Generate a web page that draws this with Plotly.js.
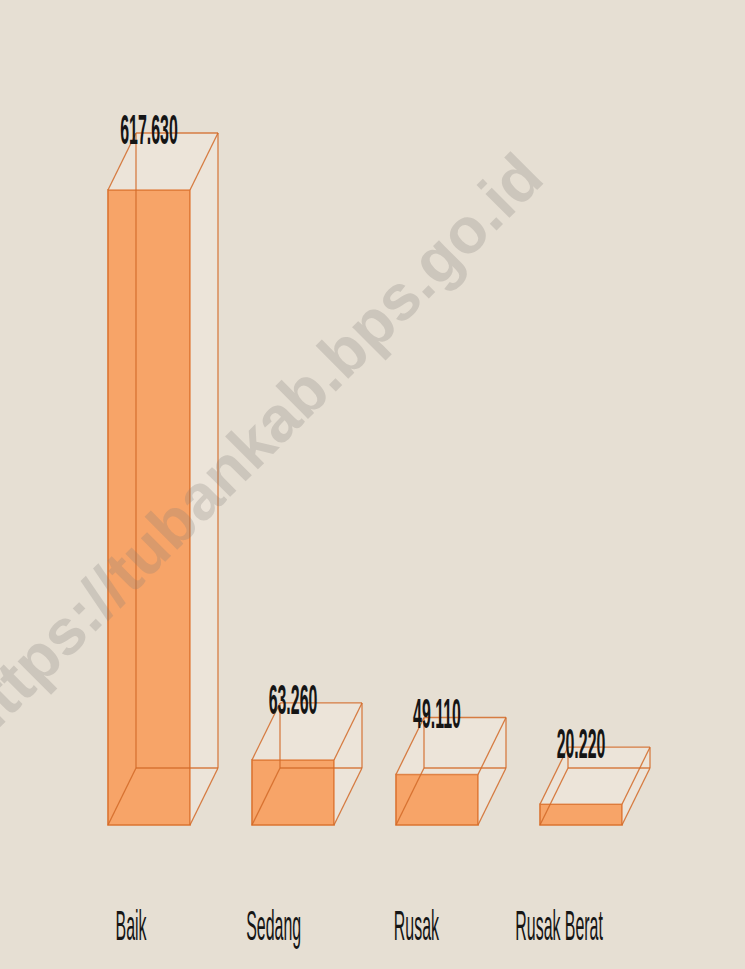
<!DOCTYPE html>
<html>
<head>
<meta charset="utf-8">
<script src="https://cdn.plot.ly/plotly-3.0.1.min.js"></script>
<style>
  html, body { margin: 0; padding: 0; background: #e6dfd3; }
  #chart { width: 745px; height: 969px; }
</style>
</head>
<body>
<div id="chart"></div>
<script>
// ---- data ----
const categories = ['Baik', 'Sedang', 'Rusak', 'Rusak Berat'];
const values = [617630, 63260, 49110, 20220];
const watermark = 'https://tubankab.bps.go.id';

// ---- geometry (pixels) ----
const W = 745, H = 969;
const marginB = 73;
const plotH = H - marginB;
const barCenter0 = 149, barStep = 144, barWidthPx = 82;
const labelCenter0 = 131, labelStep = 142.7;
const baselinePx = 825, maxTopPx = 190;
const depthXPx = 28, depthYPx = 57;
const squeeze = 0.37;

const maxVal = Math.max(...values);
const s = (baselinePx - maxTopPx) / maxVal;          // px per unit
const idx = categories.map((c, i) => i);
const bw = barWidthPx / barStep;
const dxU = depthXPx / barStep;
const dyU = depthYPx / s;

const xRange = [-barCenter0 / barStep, (W - barCenter0) / barStep];
const x2Range = [-labelCenter0 / labelStep, (W - labelCenter0) / labelStep];
const yRange = [-(plotH - baselinePx) / s, baselinePx / s];

// box outline (back edges + depth diagonals), built from values
const lx = [], ly = [];
const sx = [], sy = [];
values.forEach((v, i) => {
  const xl = i - bw / 2, xr = i + bw / 2;
  const segs = [
    [[xl + dxU, dyU], [xl + dxU, v + dyU]],
    [[xr + dxU, dyU], [xr + dxU, v + dyU]],
    [[xl + dxU, v + dyU], [xr + dxU, v + dyU]],
    [[xl + dxU, dyU], [xr + dxU, dyU]],
    [[xl, 0], [xl + dxU, dyU]],
    [[xr, 0], [xr + dxU, dyU]],
    [[xl, v], [xl + dxU, v + dyU]],
    [[xr, v], [xr + dxU, v + dyU]]
  ];
  segs.forEach(sg => {
    lx.push(sg[0][0], sg[1][0], null);
    ly.push(sg[0][1], sg[1][1], null);
  });
  sx.push(xr, xr + dxU, xr + dxU, xr, xr, null);
  sy.push(0, dyU, v + dyU, v, 0, null);
  sx.push(xl, xr, xr + dxU, xl + dxU, xl, null);
  sy.push(v, v, v + dyU, v + dyU, v, null);
});

const labelFont = '"Liberation Sans", Arial, sans-serif';

const traces = [
  {
    type: 'scatter', x: sx, y: sy, mode: 'lines', fill: 'toself',
    fillcolor: 'rgba(255,242,236,0.25)', line: { width: 0 },
    hoverinfo: 'skip', showlegend: false, xaxis: 'x', yaxis: 'y'
  },
  {
    type: 'bar', x: idx, y: values, width: bw,
    marker: { color: '#f7a468', line: { color: '#db7431', width: 1.6 } },
    hoverinfo: 'skip', showlegend: false, xaxis: 'x', yaxis: 'y'
  },
  {
    type: 'scatter', x: lx, y: ly, mode: 'lines',
    line: { color: 'rgba(210,106,40,0.85)', width: 1.3 },
    hoverinfo: 'skip', showlegend: false, xaxis: 'x', yaxis: 'y'
  },
  {
    type: 'scatter', x: idx, y: values.map(v => v + dyU), mode: 'text',
    customdata: values, texttemplate: '%{customdata:,}', textposition: 'middle center',
    textfont: { family: labelFont, size: 43, weight: 'bold', color: '#151515' },
    hoverinfo: 'skip', showlegend: false, xaxis: 'x', yaxis: 'y'
  },
  {
    type: 'scatter', x: idx, y: values, mode: 'markers',
    marker: { opacity: 0 }, hoverinfo: 'skip', showlegend: false,
    xaxis: 'x2', yaxis: 'y'
  }
];

const layout = {
  width: W, height: H,
  margin: { l: 0, r: 0, t: 0, b: marginB },
  paper_bgcolor: '#e6dfd3', plot_bgcolor: 'rgba(0,0,0,0)',
  separators: ',.',
  showlegend: false,
  xaxis: { range: xRange, showgrid: false, zeroline: false, showticklabels: false, showline: false, fixedrange: true },
  xaxis2: {
    range: x2Range, overlaying: 'x', anchor: 'y', side: 'bottom',
    tickmode: 'array', tickvals: idx, ticktext: categories, tickangle: 0,
    showgrid: false, zeroline: false, showline: false, ticks: '',
    tickfont: { family: labelFont, size: 43, color: '#151515' }
  },
  yaxis: { range: yRange, showgrid: false, zeroline: false, showticklabels: false, showline: false, fixedrange: true },
  annotations: [
    {
      text: watermark, xref: 'paper', yref: 'paper',
      x: 248 / W, y: 1 - 448 / plotH, xanchor: 'center', yanchor: 'middle',
      textangle: -45, showarrow: false,
      font: { family: '"Liberation Sans", Arial, sans-serif', size: 64, weight: 'bold', color: 'rgba(128,124,120,0.25)' }
    }
  ]
};

function condense(gd) {
  const sel = gd.querySelectorAll('.textpoint text, .x2tick text');
  sel.forEach(t => {
    const len = t.getComputedTextLength();
    if (len > 0) {
      t.setAttribute('textLength', (len * squeeze).toFixed(1));
      t.setAttribute('lengthAdjust', 'spacingAndGlyphs');
    }
  });
}

Plotly.newPlot('chart', traces, layout, { staticPlot: true, displayModeBar: false })
  .then(gd => condense(gd));
</script>
</body>
</html>
